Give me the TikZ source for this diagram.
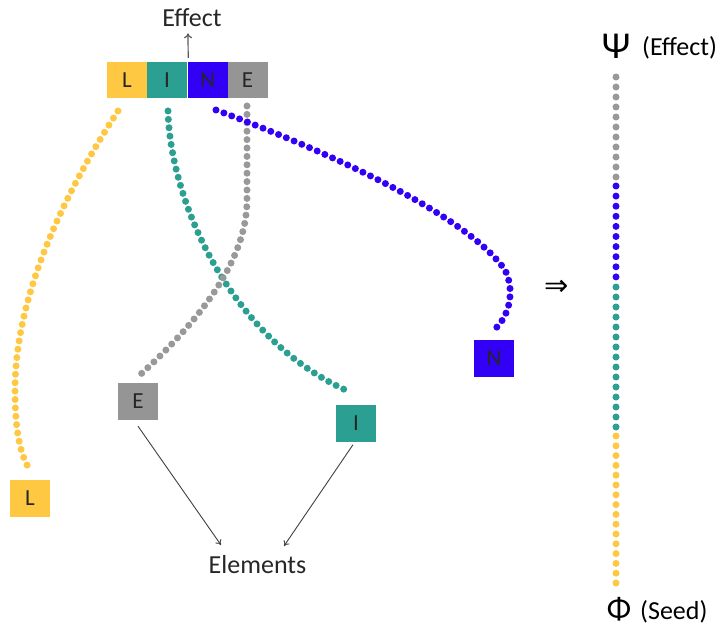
\documentclass[tikz,border=0pt]{standalone}
\usepackage{fontspec}
\setmainfont{Carlito}
\newfontfamily\symfont{DejaVu Sans}
\usetikzlibrary{arrows.meta}
\definecolor{Ycol}{HTML}{FFC843}
\definecolor{Tcol}{HTML}{2A9F92}
\definecolor{Bcol}{HTML}{3100F5}
\definecolor{Gcol}{HTML}{959595}
\definecolor{Dcol}{HTML}{999999}
\tikzset{
  barbox/.style={minimum width=40pt, minimum height=36pt, inner sep=0pt, font=\fontsize{23}{26}\selectfont, text=black!85},
  elbox/.style={minimum width=40pt, minimum height=37pt, inner sep=0pt, font=\fontsize{23}{26}\selectfont, text=black!85},
  dotline/.style={line width=7pt, line cap=round, dash pattern=on 0pt off 8.4pt},
  effarrow/.style={draw=black!65, line width=1.2pt, -{To[length=5pt,width=8pt]}},
  elarrow/.style={draw=black!75, line width=0.9pt, -{To[length=5pt,width=7pt]}},
  dotc/.style={circle, inner sep=0pt, minimum size=7pt}
}
\begin{document}
\begin{tikzpicture}[x=1pt,y=-1pt]
\useasboundingbox (0,0) rectangle (722,628);
% top bar
\node[barbox, fill=Ycol] (barL) at (127,80) {L};
\node[barbox, fill=Tcol] (barI) at (167,80) {I};
\node[barbox, fill=Bcol] (barN) at (207.5,80) {N};
\node[barbox, fill=Gcol] (barE) at (247.5,80) {E};
\node[inner sep=0pt, font=\fontsize{26}{28}\selectfont, text=black!85] (effect) at (192,18) {Effect};
\draw[effarrow] ([xshift=1pt,yshift=4pt]barI.north east) -- ([xshift=-4pt,yshift=-6pt]effect.south);
% element boxes
\node[elbox, fill=Ycol] (boxL) at (30,498) {L};
\node[elbox, fill=Gcol] (boxE) at (138,401.5) {E};
\node[elbox, fill=Tcol] (boxI) at (356,423) {I};
\node[elbox, fill=Bcol] (boxN) at (494,358.5) {N};
% curve ends
\coordinate (yS) at (118,111);
\coordinate (yE) at (30,470);
\coordinate (tS) at (168,111);
\coordinate (tE) at (350,392);
\coordinate (gS) at (247,106);
\coordinate (gE) at (141,374);
\coordinate (bS) at (216,110);
\coordinate (bE) at (495,329);
% dotted curves
\draw[dotline, Ycol] (yS) .. controls (60,200) and (15,300) .. (15,390) .. controls (15,430) and (20,455) .. (yE);
\draw[dotline, Tcol] (tS) .. controls (170,200) and (230,340) .. (tE);
\draw[dotline, Dcol] (gS) -- (247,200) .. controls (247,260) and (200,320) .. (gE);
\draw[dotline, Bcol] (bS) .. controls (350,160) and (470,220) .. (505,270) .. controls (515,290) and (510,315) .. (bE);
% elements
\node[font=\fontsize{26}{30}\selectfont, text=black!85, anchor=base] (elements) at (257.5,573) {Elements};
\coordinate (elA) at (221,545);
\coordinate (elB) at (284,546);
\draw[elarrow] ([yshift=-6pt]boxE.south) -- (elA);
\draw[elarrow] ([xshift=-3pt,yshift=-3pt]boxI.south) -- (elB);
% implication
\node[font=\symfont\fontsize{29}{32}\selectfont, inner sep=0pt] (impl) at (557,288) {⇒};
% right column
\foreach \i in {0,...,10} \node[dotc, fill=Dcol] at (616,77+\i*10) {};
\foreach \i in {0,...,9} \node[dotc, fill=Bcol] at (616,186+\i*10.1) {};
\foreach \i in {0,...,14} \node[dotc, fill=Tcol] at (616,287+\i*10) {};
\foreach \i in {0,...,15} \node[dotc, fill=Ycol] at (616,436+\i*9.8) {};
\node[inner sep=0pt, font=\fontsize{38}{40}\selectfont] (psi) at (616,46) {Ψ};
\node[anchor=base west, inner sep=0pt, font=\fontsize{26}{30}\selectfont] (psit) at (642,56) {(Effect)};
\node[anchor=base, inner sep=0pt, font=\fontsize{32}{34}\selectfont] (phi) at (619,619) {Φ};
\node[anchor=base west, inner sep=0pt, font=\fontsize{26}{30}\selectfont] (phit) at (640,619) {(Seed)};
\end{tikzpicture}
\end{document}
